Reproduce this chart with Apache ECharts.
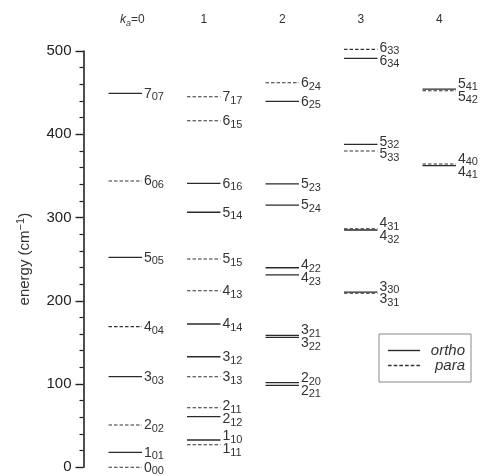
<!DOCTYPE html>
<html>
<head>
<meta charset="utf-8">
<script src="https://cdn.jsdelivr.net/npm/echarts@6/dist/echarts.min.js"></script>
<style>
  html, body { margin: 0; padding: 0; background: #fff; }
  #chart { width: 480px; height: 476px; }
</style>
</head>
<body>
<div id="chart"></div>
<script>
// Rotational levels J(Ka,Kc) of the ground vibrational state, one row per Ka column
const kaHeaders = ['0', '1', '2', '3', '4'];

const levelJ = [
  0, 1, 2, 3, 4, 5, 6, 7,
  1, 1, 2, 2, 3, 3, 4, 4, 5, 5, 6, 6, 7,
  2, 2, 3, 3, 4, 4, 5, 5, 6, 6,
  3, 3, 4, 4, 5, 5, 6, 6,
  4, 4, 5, 5
];
const levelKa = [
  0, 0, 0, 0, 0, 0, 0, 0,
  1, 1, 1, 1, 1, 1, 1, 1, 1, 1, 1, 1, 1,
  2, 2, 2, 2, 2, 2, 2, 2, 2, 2,
  3, 3, 3, 3, 3, 3, 3, 3,
  4, 4, 4, 4
];
const levelKc = [
  0, 1, 2, 3, 4, 5, 6, 7,
  1, 0, 2, 1, 3, 2, 4, 3, 5, 4, 6, 5, 7,
  1, 0, 2, 1, 3, 2, 4, 3, 5, 4,
  1, 0, 2, 1, 3, 2, 4, 3,
  1, 0, 2, 1
];
// energies in cm^-1
const levelEnergy = [
  0, 18, 50.8, 108.8, 168.9, 252.2, 343.9, 449.2,
  27.1, 32.8, 60.8, 71.6, 108.8, 132.8, 172.1, 212.1, 250.2, 306.3, 341.1, 416.3, 445.1,
  98.5, 101.6, 156.1, 158.5, 231, 239.7, 315, 340.3, 439.6, 461.9,
  209, 210.5, 285, 286.6, 379.9, 387.9, 491.2, 502,
  362.3, 364.3, 452.3, 454.3
];
const levelSpin = [
  'para', 'ortho', 'para', 'ortho', 'para', 'ortho', 'para', 'ortho',
  'para', 'ortho', 'ortho', 'para', 'para', 'ortho', 'ortho', 'para', 'para', 'ortho', 'ortho', 'para', 'para',
  'ortho', 'ortho', 'ortho', 'ortho', 'ortho', 'ortho', 'ortho', 'ortho', 'ortho', 'para',
  'para', 'ortho', 'ortho', 'para', 'para', 'ortho', 'ortho', 'para',
  'ortho', 'para', 'para', 'ortho'
];

const FONT = 'Liberation Sans, Arial, sans-serif';

// Spread labels of nearly degenerate levels so they do not overlap (energy units)
const MIN_LABEL_SEP = 15.5;
const labelEnergy = levelEnergy.slice();
kaHeaders.forEach(function (_, ka) {
  const idx = [];
  for (let i = 0; i < levelKa.length; i++) if (levelKa[i] === ka) idx.push(i);
  idx.sort(function (a, b) { return levelEnergy[a] - levelEnergy[b]; });
  for (let pass = 0; pass < 30; pass++) {
    for (let k = 1; k < idx.length; k++) {
      const lo = idx[k - 1], hi = idx[k];
      const gap = labelEnergy[hi] - labelEnergy[lo];
      if (gap < MIN_LABEL_SEP) {
        const s = (MIN_LABEL_SEP - gap) / 2;
        labelEnergy[hi] += s;
        labelEnergy[lo] -= s;
      }
    }
  }
});

function buildSeriesData(spin) {
  const items = [];
  for (let i = 0; i < levelJ.length; i++) {
    if (levelSpin[i] !== spin) continue;
    items.push({
      value: [levelKa[i], levelEnergy[i], labelEnergy[i]],
      j: String(levelJ[i]),
      sub: String(levelKa[i]) + String(levelKc[i])
    });
  }
  return items;
}
const orthoData = buildSeriesData('ortho');
const paraData = buildSeriesData('para');

const levelRich = {
  m: { fontSize: 14, lineHeight: 16, verticalAlign: 'top', fill: '#333', fontFamily: FONT },
  s: { fontSize: 11, lineHeight: 12, padding: [9, 0, 0, 0], verticalAlign: 'bottom', fill: '#333', fontFamily: FONT }
};

function makeRenderer(items, lineStyle) {
  return function (params, api) {
    const item = items[params.dataIndex];
    const ka = api.value(0);
    const c = api.coord([ka, api.value(1)]);
    const ly = api.coord([ka, api.value(2)])[1];
    const band = api.size([1, 0])[0];
    const half = band * 0.213;
    const x1 = c[0] - half, x2 = c[0] + half;
    return {
      type: 'group',
      children: [
        {
          type: 'line',
          shape: { x1: x1, y1: c[1], x2: x2, y2: c[1] },
          style: lineStyle
        },
        {
          type: 'text',
          x: x2 + 2,
          y: ly + 1.5 - 8,
          style: {
            text: '{m|' + item.j + '}{s|' + item.sub + '}',
            rich: levelRich,
            align: 'left',
            verticalAlign: 'top',
            fill: '#333'
          }
        }
      ]
    };
  };
}

function dashIconPath(len, dash, gap, h) {
  let p = 'path://';
  for (let x = 0; x < len; x += dash + gap) {
    const w = Math.min(dash, len - x);
    p += 'M' + x + ' 0H' + (x + w) + 'V' + h + 'H' + x + 'Z';
  }
  return p;
}

const chart = echarts.init(document.getElementById('chart'), null, { renderer: 'canvas' });

chart.setOption({
  animation: false,
  backgroundColor: '#fff',
  textStyle: { fontFamily: FONT },
  grid: { left: 86, right: 1.5, top: 51, bottom: 8.7, containLabel: false },
  legend: {
    orient: 'vertical',
    left: 379,
    top: 334,
    selectedMode: false,
    data: [
      { name: 'ortho', icon: 'path://M0 0H32V1.4H0Z' },
      { name: 'para', icon: dashIconPath(32, 3.5, 2, 1.1) }
    ],
    itemWidth: 32,
    itemHeight: 1.4,
    itemGap: 0,
    symbolKeepAspect: false,
    padding: [9, 6, 9, 9],
    borderColor: '#8a8a8a',
    borderWidth: 1,
    itemStyle: { borderWidth: 0 },
    formatter: function (name) { return '{r|' + name + '}'; },
    textStyle: {
      color: '#333',
      rich: {
        r: { width: 40, align: 'right', fontStyle: 'italic', fontSize: 15, lineHeight: 16, color: '#333', fontFamily: FONT }
      }
    }
  },
  xAxis: {
    type: 'category',
    position: 'top',
    data: kaHeaders,
    boundaryGap: true,
    axisLine: { show: false },
    axisTick: { show: false },
    splitLine: { show: false },
    axisLabel: {
      interval: 0,
      margin: 23,
      color: '#333',
      formatter: function (v, i) {
        return i === 0 ? '{k|k}{a|a}{t|=' + v + '}' : '{t|' + v + '}';
      },
      rich: {
        k: { fontSize: 12, fontStyle: 'italic', color: '#333', padding: [0, 0, 0, 14], lineHeight: 14, verticalAlign: 'top', fontFamily: FONT },
        a: { fontSize: 9, fontStyle: 'italic', color: '#333', lineHeight: 10, padding: [6, 0, 0, 0], verticalAlign: 'bottom', fontFamily: FONT },
        t: { fontSize: 12, color: '#333', lineHeight: 14, verticalAlign: 'top', fontFamily: FONT }
      }
    }
  },
  yAxis: {
    type: 'value',
    min: 0,
    max: 500,
    interval: 100,
    offset: 2.5,
    axisLine: { show: true, lineStyle: { color: '#222', width: 1.6 } },
    axisTick: { show: true, inside: false, length: 8, lineStyle: { color: '#222', width: 1.4 } },
    minorTick: { show: true, splitNumber: 5, length: 4, lineStyle: { color: '#222', width: 1.2 } },
    splitLine: { show: false },
    minorSplitLine: { show: false },
    axisLabel: { fontSize: 15, color: '#222', margin: 12, fontFamily: FONT },
    name: '{t|energy (cm}{u|\u22121}{t|)}',
    nameLocation: 'middle',
    nameGap: 51,
    nameTextStyle: {
      color: '#333',
      rich: {
        t: { fontSize: 15, lineHeight: 17, verticalAlign: 'bottom', color: '#333', fontFamily: FONT },
        u: { fontSize: 11, lineHeight: 12, padding: [0, 0, 8, 0], verticalAlign: 'top', color: '#333', fontFamily: FONT }
      }
    }
  },
  series: [
    {
      name: 'ortho',
      type: 'custom',
      itemStyle: { color: '#2a2a2a' },
      encode: { x: 0, y: 1 },
      clip: false,
      data: orthoData,
      renderItem: makeRenderer(orthoData, { stroke: '#2a2a2a', lineWidth: 1.3 })
    },
    {
      name: 'para',
      type: 'custom',
      itemStyle: { color: '#333' },
      encode: { x: 0, y: 1 },
      clip: false,
      data: paraData,
      renderItem: makeRenderer(paraData, { stroke: '#333', lineWidth: 1.1, lineDash: [3.5, 2] })
    }
  ]
});
</script>
</body>
</html>
